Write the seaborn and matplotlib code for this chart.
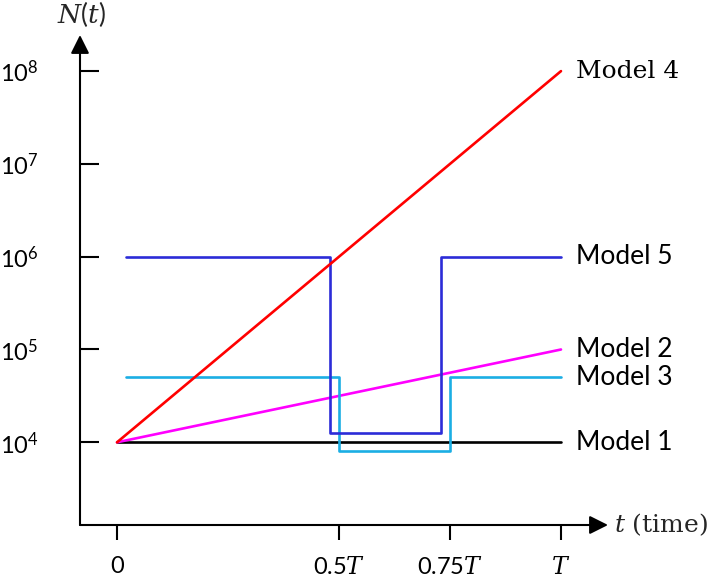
import matplotlib
matplotlib.use("Agg")
import matplotlib.pyplot as plt
import seaborn as sns
import pandas as pd

# time as a fraction of T, population size N(t)
model1_t = [0.0, 1.0]
model1_n = [1e4, 1e4]
model2_t = [0.0, 1.0]
model2_n = [1e4, 1e5]
model3_t = [0.02, 0.5, 0.5, 0.75, 0.75, 1.0]
model3_n = [5e4, 5e4, 8e3, 8e3, 5e4, 5e4]
model4_t = [0.0, 1.0]
model4_n = [1e4, 1e8]
model5_t = [0.02, 0.48, 0.48, 0.73, 0.73, 1.0]
model5_n = [1e6, 1e6, 1.25e4, 1.25e4, 1e6, 1e6]

model_names = ["Model 1", "Model 2", "Model 3", "Model 5", "Model 4"]
model_colors = ["#000000", "#FF00FF", "#1BAEE4", "#2C2CD8", "#FF0000"]

x_ticks = [0.0, 0.5, 0.75, 1.0]
x_tick_labels = ["0", r"0.5$\mathit{T}$", r"0.75$\mathit{T}$", r"$\mathit{T}$"]
y_ticks = [1e4, 1e5, 1e6, 1e7, 1e8]
y_tick_labels = [r"$10^{4}$", r"$10^{5}$", r"$10^{6}$", r"$10^{7}$", r"$10^{8}$"]

series = {
    "Model 1": (model1_t, model1_n),
    "Model 2": (model2_t, model2_n),
    "Model 3": (model3_t, model3_n),
    "Model 4": (model4_t, model4_n),
    "Model 5": (model5_t, model5_n),
}
rows = []
for name in model_names:
    ts, ns = series[name]
    for t, n in zip(ts, ns):
        rows.append({"model": name, "t": t, "N": n})
df = pd.DataFrame(rows)

sns.set_theme(style="white")
plt.rcParams["font.family"] = ["Lato", "DejaVu Sans"]
plt.rcParams["mathtext.fontset"] = "custom"
plt.rcParams["mathtext.rm"] = "Lato"
plt.rcParams["mathtext.it"] = "DejaVu Serif:italic"
plt.rcParams["mathtext.default"] = "rm"

fig = plt.figure(figsize=(7.17, 5.81), dpi=100)
ax = fig.add_axes([80 / 717, 1 - 525 / 581, (608 - 80) / 717, (525 - 35) / 581])

sns.lineplot(data=df, x="t", y="N", hue="model", hue_order=model_names,
             palette=dict(zip(model_names, model_colors)), estimator=None,
             sort=False, linewidth=1.9, legend=False, ax=ax)

ax.set_yscale("log")
ax.set_xlim(-37 / 444, (608 - 117) / 444)
ax.set_ylim(10 ** (4 - 82.7 / 92.8), 10 ** (4 + 407.3 / 92.8))
ax.minorticks_off()

ax.set_xticks(x_ticks)
ax.set_xticklabels(x_tick_labels)
ax.set_yticks(y_ticks)
ax.set_yticklabels(y_tick_labels)
ax.tick_params(axis="y", direction="in", length=13.5, width=1.5, pad=30,
               labelsize=17, left=True, colors="black")
ax.tick_params(axis="x", direction="out", length=11, width=1.5, pad=11,
               labelsize=17, bottom=True, colors="black")
ax.set_xlabel("")
ax.set_ylabel("")
for side in ["top", "right", "left", "bottom"]:
    ax.spines[side].set_visible(False)
ax.patch.set_alpha(0)

arrow = dict(arrowstyle="-|>,head_length=0.8,head_width=0.4", lw=1.5,
             color="black", mutation_scale=14, shrinkA=0, shrinkB=0)
ax.annotate("", xy=(1, 0), xytext=(0, 0), xycoords="axes fraction",
            arrowprops=arrow, annotation_clip=False)
ax.annotate("", xy=(0, 1), xytext=(0, 0), xycoords="axes fraction",
            arrowprops=arrow, annotation_clip=False)

# axis titles
ax.annotate(r"$\mathit{N}(\mathit{t})$", xy=(0, 1), xycoords="axes fraction",
            xytext=(1, 4), textcoords="offset points", ha="center",
            va="bottom", fontsize=19, family="DejaVu Serif",
            math_fontfamily="custom", annotation_clip=False)
ax.annotate(r"$\mathit{t}$ (time)", xy=(1, 0), xycoords="axes fraction",
            xytext=(4, 0), textcoords="offset points", ha="left",
            va="center", fontsize=18, family="DejaVu Serif",
            annotation_clip=False)

# line end labels
for name in model_names:
    ts, ns = series[name]
    fam = ["DejaVu Serif"] if name == "Model 4" else ["Lato", "DejaVu Sans"]
    ax.annotate(name, xy=(ts[-1], ns[-1]), xytext=(11, 0),
                textcoords="offset points", va="center", ha="left",
                fontsize=18 if name == "Model 4" else 19, family=fam,
                color="black", annotation_clip=False)

fig.savefig("out.png", dpi=100)
